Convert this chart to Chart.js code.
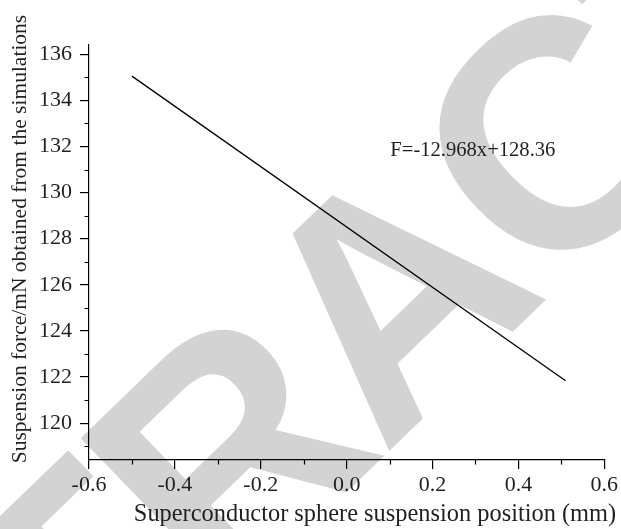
<!DOCTYPE html>
<html>
<head>
<meta charset="utf-8">
<script src="https://cdn.jsdelivr.net/npm/chart.js@4/dist/chart.umd.min.js"></script>
<style>
  html, body { margin: 0; padding: 0; background: #fff; }
  #wrap { width: 621px; height: 529px; }
</style>
</head>
<body>
<div id="wrap"><canvas id="chart" width="621" height="529"></canvas></div>
<script>
// values
const positions = [-0.5, 0.51];          // mm
const forces = [135.05, 121.84];         // mN
const xTicks = [-0.6, -0.4, -0.2, 0.0, 0.2, 0.4, 0.6];
const xMinor = [-0.5, -0.3, -0.1, 0.1, 0.3, 0.5];
const yTicks = [120, 122, 124, 126, 128, 130, 132, 134, 136];
const yMinor = [119, 121, 123, 125, 127, 129, 131, 133, 135];
const fitLabel = 'F=-12.968x+128.36';
const fitLabelAt = [0.294, 131.82];
const xTitle = 'Superconductor sphere suspension position (mm)';
const yTitle = 'Suspension force/mN obtained from the simulations';
const watermark = 'RETRACTED';

const ink = '#231f20';
const serif = "'Liberation Serif', 'Times New Roman', serif";

const extras = {
    id: 'extras',
    beforeDraw(chart) {
        const ctx = chart.ctx;
        ctx.save();
        ctx.fillStyle = '#fff';
        ctx.fillRect(0, 0, chart.width, chart.height);
        // retraction watermark behind everything
        ctx.translate(383, 293);
        ctx.rotate(-44 * Math.PI / 180);
        ctx.fillStyle = '#d3d3d3';
        ctx.font = "bold 325px 'Liberation Sans', Arial, sans-serif";
        ctx.letterSpacing = '-8px';
        ctx.textAlign = 'center';
        ctx.textBaseline = 'alphabetic';
        ctx.fillText(watermark, 0, 118);
        ctx.restore();
    },
    afterDraw(chart) {
        const ctx = chart.ctx;
        const xs = chart.scales.x, ys = chart.scales.y;
        const area = chart.chartArea;
        ctx.save();
        // minor ticks
        ctx.strokeStyle = '#000';
        ctx.lineWidth = 1.2;
        ctx.beginPath();
        yMinor.forEach(v => {
            const py = Math.round(ys.getPixelForValue(v)) + 0.5;
            ctx.moveTo(area.left - 4.5, py);
            ctx.lineTo(area.left, py);
        });
        xMinor.forEach(v => {
            const px = Math.round(xs.getPixelForValue(v)) + 0.5;
            ctx.moveTo(px, area.bottom);
            ctx.lineTo(px, area.bottom + 4.5);
        });
        ctx.stroke();

        ctx.fillStyle = ink;
        ctx.textAlign = 'center';
        ctx.textBaseline = 'middle';
        // fit equation
        ctx.font = '20.6px ' + serif;
        ctx.fillText(fitLabel, xs.getPixelForValue(fitLabelAt[0]), ys.getPixelForValue(fitLabelAt[1]));
        // axis titles
        ctx.font = '24.4px ' + serif;
        ctx.fillText(xTitle, 375, 515);
        ctx.font = '21.5px ' + serif;
        ctx.translate(20, 239);
        ctx.rotate(-Math.PI / 2);
        ctx.fillText(yTitle, 0, 0);
        ctx.restore();
    }
};

new Chart(document.getElementById('chart'), {
    type: 'scatter',
    data: {
        datasets: [{
            data: positions.map((x, i) => ({ x: x, y: forces[i] })),
            showLine: true,
            borderColor: '#000',
            borderWidth: 1.3,
            pointRadius: 0,
            fill: false
        }]
    },
    options: {
        responsive: false,
        animation: false,
        layout: { padding: { top: 45, right: 15, left: 0, bottom: 0 } },
        plugins: {
            legend: { display: false },
            tooltip: { enabled: false }
        },
        scales: {
            x: {
                type: 'linear',
                min: -0.6,
                max: 0.6,
                afterBuildTicks: s => { s.ticks = xTicks.map(v => ({ value: v })); },
                afterFit: s => { s.height = 69; },
                border: { color: '#000', width: 1.2 },
                grid: { drawOnChartArea: false, drawTicks: true, tickLength: 9, color: '#000', lineWidth: 1.2 },
                ticks: {
                    padding: 3,
                    maxRotation: 0,
                    color: ink,
                    font: { family: serif, size: 22 },
                    callback: v => v.toFixed(1)
                }
            },
            y: {
                type: 'linear',
                min: 118.4,
                max: 136.4,
                afterBuildTicks: s => { s.ticks = yTicks.map(v => ({ value: v })); },
                afterFit: s => { s.width = 89; },
                border: { color: '#000', width: 1.2 },
                grid: { drawOnChartArea: false, drawTicks: true, tickLength: 9, color: '#000', lineWidth: 1.2 },
                ticks: {
                    padding: 8,
                    color: ink,
                    font: { family: serif, size: 22 },
                    callback: v => String(v)
                }
            }
        }
    },
    plugins: [extras]
});
</script>
</body>
</html>
